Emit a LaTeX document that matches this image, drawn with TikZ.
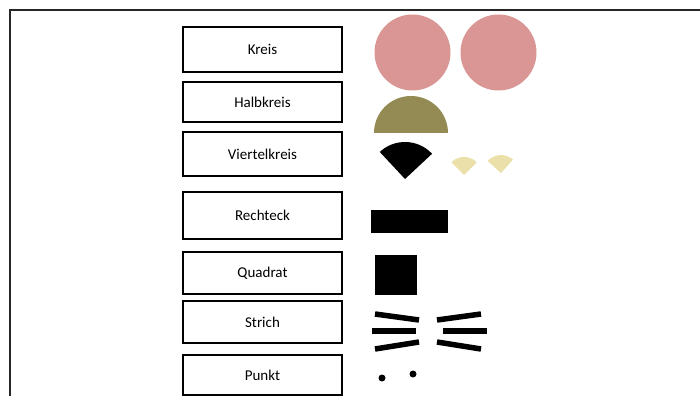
\documentclass[tikz,border=0pt]{standalone}
\usepackage{fontspec}
\setmainfont{Carlito}
\usepackage{tikz}
\usepackage{xcolor}

\definecolor{rosa}{RGB}{217,150,148}
\definecolor{oliv}{RGB}{148,138,84}
\definecolor{sand}{RGB}{236,224,170}

\begin{document}
\begin{tikzpicture}[x=1pt, y=1pt,
        box/.style={draw, rectangle, line width=1.4pt, minimum width=159pt, inner sep=0pt, font=\fontsize{15}{17}\selectfont},
        strich/.style={line width=5.5pt}]
        \useasboundingbox (0,0) rectangle (700,396);
        \draw[line width=1.5pt, black!85] (10,0) -- (10,386) -- (700,386);

        \node (n1) at (262.5, 346.5) [box, minimum height=45pt] {Kreis};
        \node (n2) at (262.5, 294.0) [box, minimum height=40pt] {Halbkreis};
        \node (n3) at (262.5, 242.0) [box, minimum height=44pt] {Viertelkreis};
        \node (n4) at (262.5, 180.5) [box, minimum height=47pt] {Rechteck};
        \node (n5) at (262.5, 123.0) [box, minimum height=42pt] {Quadrat};
        \node (n6) at (262.5,  74.0) [box, minimum height=42pt] {Strich};
        \node (n7) at (262.5,  21.0) [box, minimum height=40pt] {Punkt};

        % Kreis
        \fill[rosa] (412.5,343.5) circle (38);
        \fill[rosa] (498.5,343.5) circle (38);
        % Halbkreis
        \fill[oliv] (448,263) arc (0:180:37) -- cycle;
        % Viertelkreis
        \fill[black] (405,217) -- ++(43:37) arc (43:133:37) -- cycle;
        \fill[sand] (464,221) -- ++(45:18) arc (45:135:18) -- cycle;
        \fill[sand] (501,223) -- ++(48:18) arc (48:138:18) -- cycle;
        % Rechteck, Quadrat
        \fill[black] (371,163) rectangle (448,186);
        \fill[black] (375,101) rectangle (417,141);
        % Strich
        \draw[strich] (375,82) -- (419,76);
        \draw[strich] (372,65) -- (416,65);
        \draw[strich] (375,47) -- (419,54);
        \draw[strich] (437,76) -- (481,82);
        \draw[strich] (443,65) -- (487,65);
        \draw[strich] (437,54) -- (481,47);
        % Punkt
        \fill[black] (382,18) circle (3.5);
        \fill[black] (413,22) circle (3.5);
    \end{tikzpicture}
\end{document}
